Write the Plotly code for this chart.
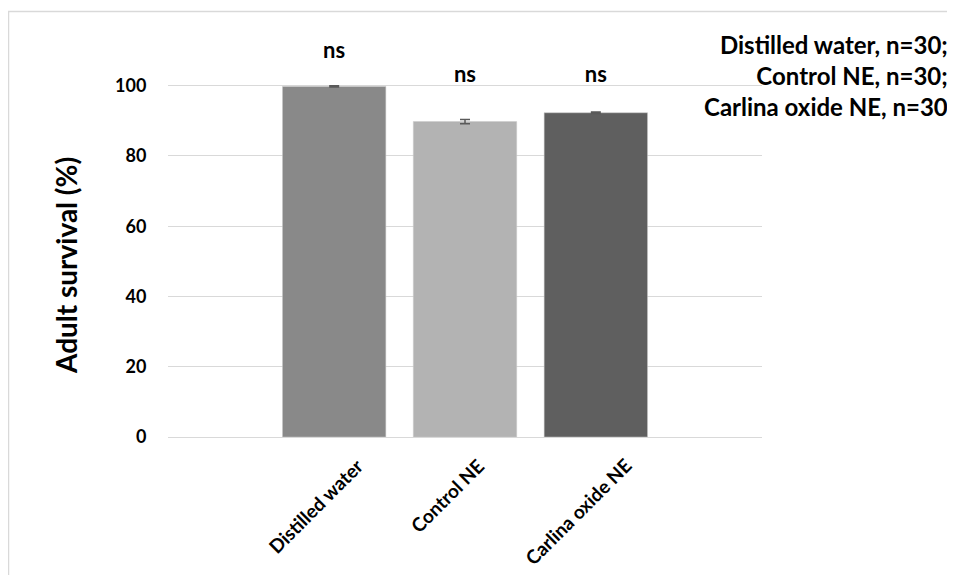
import plotly.graph_objects as go

categories = ["Distilled water", "Control NE", "Carlina oxide NE"]
survival = [99.8, 89.8, 92.3]
errors = [0.2, 0.6, 0.2]
bar_colors = ["#898989", "#b3b3b3", "#5f5f5f"]
sig_labels = ["ns", "ns", "ns"]
sig_y = [109.5, 102.5, 102.5]
y_ticks = [0, 20, 40, 60, 80, 100]
y_title = "Adult survival (%)"
legend_lines = ["Distilled water, n=30;", "Control NE, n=30;", "Carlina oxide NE, n=30"]

FONT = "Lato"
YMAX = 115
x_pos = list(range(len(categories)))

# figure geometry (page body adds 8px offset)
W, H = 947, 567
L, R, T, B = 160, 193, 25, 138
PW, PH = W - L - R, H - T - B

fig = go.Figure()
fig.add_trace(go.Bar(
    x=x_pos, y=survival, width=0.79,
    marker=dict(color=bar_colors, line=dict(color="#c8c8c8", width=0.5)),
    error_y=dict(type="data", array=errors, visible=True, color="#5a5a5a", thickness=1.5, width=5),
    showlegend=False, hoverinfo="skip",
))

# significance labels
fig.add_trace(go.Scatter(
    x=x_pos, y=sig_y, mode="text", text=["<b>%s</b>" % s for s in sig_labels],
    textfont=dict(family=FONT, size=22, color="black"), textposition="middle center",
    cliponaxis=False, showlegend=False, hoverinfo="skip",
))

# rotated category labels (Excel-style placement)
for xi, c in zip(x_pos, categories):
    fig.add_annotation(x=xi, xref="x", y=-14 / PH, yref="paper",
                       text="<b>%s</b>" % c, textangle=-45, showarrow=False,
                       xanchor="center", yanchor="top", xshift=-18,
                       font=dict(family=FONT, size=19, color="black"))

# y-axis title, centred on the 0-100 gridded span
fig.add_annotation(xref="paper", yref="paper", x=(58 - L) / PW, y=(429 - 258) / PH,
                   text="<b>%s</b>" % y_title, textangle=-90, showarrow=False,
                   xanchor="center", yanchor="middle",
                   font=dict(family=FONT, size=28, color="black"))

fig.add_annotation(xref="paper", yref="paper", x=(942 - L) / PW, y=1 + (T - 20) / PH,
                   xanchor="right", yanchor="top", align="right",
                   text="<b>" + "<br>".join(legend_lines) + "</b>", showarrow=False,
                   font=dict(family=FONT, size=24, color="black"))

# outer light border
fig.add_shape(type="rect", xref="paper", yref="paper",
              x0=(0.5 - L) / PW, x1=1.6, y0=-0.6, y1=1 + (T - 3.5) / PH,
              line=dict(color="#d9d9d9", width=1.5), fillcolor="rgba(0,0,0,0)", layer="below")

fig.update_layout(
    width=W, height=H,
    margin=dict(l=L, r=R, t=T, b=B),
    plot_bgcolor="white", paper_bgcolor="white",
    font=dict(family=FONT, color="black"),
    xaxis=dict(
        range=[-1.27, 3.27], tickvals=x_pos, showticklabels=False,
        showgrid=False, zeroline=False, showline=False, ticks="",
    ),
    yaxis=dict(
        range=[0, YMAX], tickmode="array", tickvals=y_ticks,
        ticktext=["<b>%d</b>" % v for v in y_ticks],
        tickfont=dict(family=FONT, size=18, color="black"),
        showgrid=True, gridcolor="#d9d9d9", gridwidth=1,
        zeroline=True, zerolinecolor="#d9d9d9", zerolinewidth=1,
        showline=False, ticks="outside", ticklen=17, tickcolor="rgba(0,0,0,0)",
    ),
)

fig.write_html("out.html")
